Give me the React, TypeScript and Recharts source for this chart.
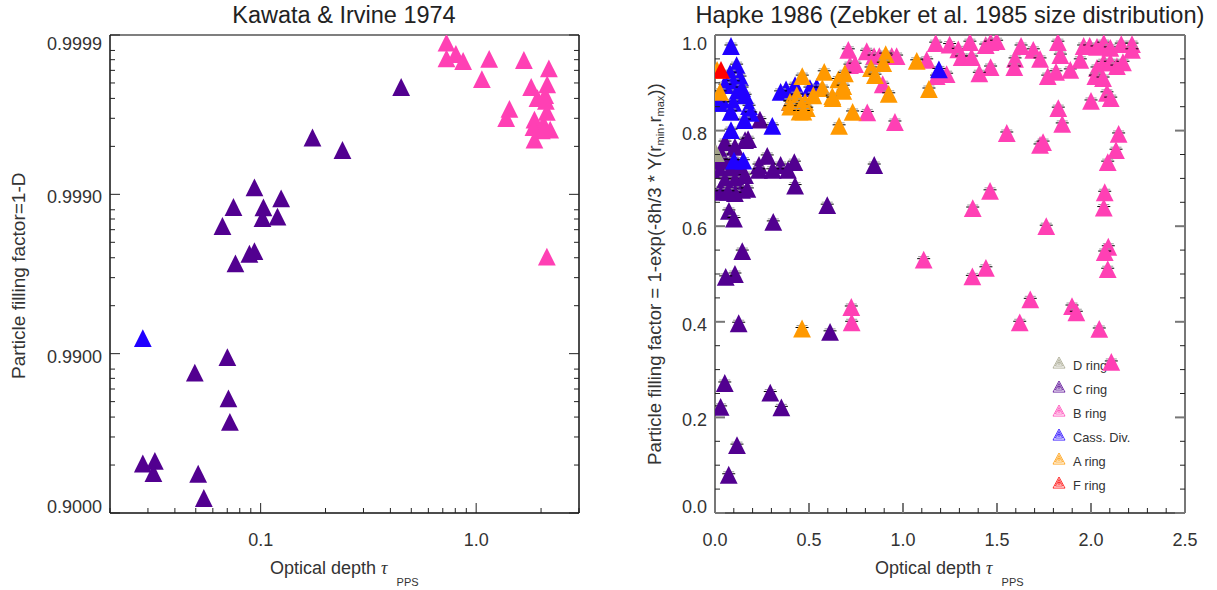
import React from 'react';
import { ScatterChart, Scatter, XAxis, YAxis, Legend } from 'recharts';

// Kawata & Irvine panel: [optical depth, D], filling factor is 1-D
const kawataCRing = [
  [0.0936, 9.04e-4], [0.0748, 1.201e-3], [0.0665, 1.58e-3], [0.103, 1.206e-3], [0.1245, 1.06e-3],
  [0.102, 1.41e-3], [0.1197, 1.38e-3], [0.0936, 2.27e-3], [0.0887, 2.36e-3], [0.0764, 2.71e-3],
  [0.174, 4.4e-4], [0.2397, 5.27e-4], [0.4487, 2.12e-4], [0.0701, 0.0105], [0.0495, 0.01317],
  [0.0709, 0.0191], [0.072, 0.02677], [0.0284, 0.04892], [0.0323, 0.04703], [0.0318, 0.0561],
  [0.0513, 0.0567], [0.0545, 0.0805],
];
const kawataBRing = [
  [0.7283, 1.118e-4], [0.7283, 1.4e-4], [0.805, 1.316e-4], [0.87, 1.456e-4], [1.149, 1.41e-4],
  [1.063, 1.89e-4], [1.665, 1.435e-4], [2.175, 1.62e-4], [1.8, 2.12e-4], [2.136, 2.04e-4],
  [1.925, 2.49e-4], [2.09, 2.38e-4], [2.106, 2.59e-4], [1.427, 2.91e-4], [1.378, 3.32e-4],
  [2.128, 3.04e-4], [1.864, 3.4e-4], [2.053, 3.6e-4], [1.845, 3.78e-4], [2.205, 3.93e-4],
  [2.018, 3.97e-4], [1.864, 4.54e-4], [2.128, 2.46e-3],
];
const kawataCassini = [[0.0284, 0.00798]];

// Hapke panel: [optical depth, filling factor]
const hapkeCRing = [
  [0.239, 0.823], [0.053, 0.776], [0.106, 0.766], [0.037, 0.749], [0.09, 0.738], [0.16, 0.78],
  [0.176, 0.782], [0.234, 0.728], [0.278, 0.747], [0.349, 0.728], [0.307, 0.718], [0.388, 0.718],
  [0.422, 0.734], [0.426, 0.685], [0.234, 0.718], [0.027, 0.718], [0.08, 0.718], [0.133, 0.718],
  [0.053, 0.697], [0.106, 0.697], [0.16, 0.707], [0.027, 0.676], [0.08, 0.676], [0.144, 0.676],
  [0.172, 0.678], [0.106, 0.669], [0.037, 0.672], [0.069, 0.672], [0.027, 0.738], [0.122, 0.728],
  [0.074, 0.632], [0.101, 0.616], [0.31, 0.609], [0.597, 0.644], [0.847, 0.728], [0.145, 0.548],
  [0.106, 0.5], [0.057, 0.494], [0.126, 0.397], [0.612, 0.379], [0.052, 0.272], [0.03, 0.222],
  [0.294, 0.252], [0.353, 0.221], [0.117, 0.142], [0.073, 0.08],
];
const hapkeDRing = [[0.005, 0.753]];
const hapkeBRing = [
  [0.709, 0.969], [0.807, 0.966], [0.846, 0.956], [0.874, 0.956], [0.94, 0.956], [0.966, 0.956],
  [0.718, 0.937], [0.745, 0.939], [0.81, 0.838], [0.957, 0.818], [0.892, 0.897], [1.126, 0.948],
  [1.174, 0.983], [1.248, 0.98], [1.294, 0.97], [1.356, 0.985], [1.312, 0.954], [1.365, 0.954],
  [1.44, 0.979], [1.466, 0.985], [1.498, 0.987], [1.466, 0.933], [1.406, 0.92], [1.232, 0.918],
  [1.179, 0.914], [1.552, 0.795], [1.628, 0.977], [1.596, 0.95], [1.592, 0.933], [1.693, 0.969],
  [1.729, 0.95], [1.729, 0.77], [1.463, 0.674], [1.371, 0.638], [1.824, 0.985], [1.837, 0.958],
  [1.77, 0.914], [1.814, 0.923], [1.89, 0.927], [1.943, 0.948], [1.961, 0.977], [1.993, 0.977],
  [2.032, 0.975], [2.068, 0.983], [2.103, 0.973], [2.161, 0.981], [2.218, 0.981], [2.218, 0.969],
  [2.032, 0.931], [2.068, 0.943], [2.103, 0.943], [2.138, 0.935], [2.17, 0.943], [2.023, 0.914],
  [2.064, 0.91], [2.085, 0.879], [2.105, 0.868], [2.0, 0.862], [1.826, 0.847], [1.847, 0.814],
  [1.745, 0.776], [2.147, 0.793], [2.133, 0.759], [2.089, 0.734], [2.073, 0.671], [2.068, 0.639],
  [1.762, 0.6], [2.092, 0.557], [2.073, 0.546], [2.089, 0.51], [1.11, 0.53], [1.441, 0.513],
  [1.369, 0.495], [1.677, 0.447], [1.621, 0.399], [1.899, 0.433], [1.922, 0.42], [2.044, 0.385],
  [2.108, 0.316], [0.725, 0.431], [0.727, 0.399],
];
const hapkeCassini = [
  [0.085, 0.977], [0.115, 0.937], [0.133, 0.912], [0.08, 0.92], [0.097, 0.902], [0.115, 0.879],
  [0.044, 0.858], [0.097, 0.858], [0.084, 0.839], [0.181, 0.851], [0.19, 0.837], [0.156, 0.822],
  [0.085, 0.801], [0.305, 0.81], [0.378, 0.886], [0.349, 0.881], [0.426, 0.895], [0.399, 0.86],
  [0.541, 0.891], [0.505, 0.889], [0.101, 0.737], [0.151, 0.737], [1.191, 0.928], [0.053, 0.895],
  [0.16, 0.874], [0.016, 0.864], [0.144, 0.889], [0.02, 0.858],
];
const hapkeARing = [
  [0.027, 0.881], [0.011, 0.927], [0.464, 0.914], [0.435, 0.874], [0.399, 0.86], [0.426, 0.86],
  [0.479, 0.86], [0.488, 0.847], [0.461, 0.854], [0.523, 0.874], [0.581, 0.923], [0.571, 0.889],
  [0.624, 0.872], [0.626, 0.868], [0.656, 0.907], [0.691, 0.92], [0.682, 0.883], [0.682, 0.893],
  [0.732, 0.839], [0.66, 0.81], [0.83, 0.931], [0.851, 0.916], [0.908, 0.96], [0.895, 0.941],
  [0.924, 0.877], [1.073, 0.946], [1.138, 0.887], [0.463, 0.386], [0.4, 0.85], [0.45, 0.84],
  [0.47, 0.84],
];
const hapkeFRing = [[0.032, 0.927]];

const kawataXTicks = [0.02, 0.03, 0.04, 0.05, 0.06, 0.07, 0.08, 0.09, 0.1, 0.2, 0.3, 0.4, 0.5, 0.6, 0.7, 0.8, 0.9, 1, 2, 3];
const kawataXMajor = [0.1, 1];
const kawataDTicks = [
  1e-4, 1 / 8000, 1 / 7000, 1 / 6000, 1 / 5000, 1 / 4000, 1 / 3000, 1 / 2000,
  1e-3, 1 / 800, 1 / 700, 1 / 600, 1 / 500, 1 / 400, 1 / 300, 1 / 200,
  0.01, 1 / 80, 1 / 70, 1 / 60, 1 / 50, 1 / 40, 1 / 30, 1 / 20, 0.1,
];
const kawataDMajor = [1e-4, 1e-3, 0.01, 0.1];
const hapkeXTicks = [0, 0.1, 0.2, 0.3, 0.4, 0.5, 0.6, 0.7, 0.8, 0.9, 1, 1.1, 1.2, 1.3, 1.4, 1.5, 1.6, 1.7, 1.8, 1.9, 2, 2.1, 2.2, 2.3, 2.4, 2.5];
const hapkeXMajor = [0, 0.5, 1, 1.5, 2, 2.5];
const hapkeYTicks = [0, 0.05, 0.1, 0.15, 0.2, 0.25, 0.3, 0.35, 0.4, 0.45, 0.5, 0.55, 0.6, 0.65, 0.7, 0.75, 0.8, 0.85, 0.9, 0.95, 1];
const hapkeYMajor = [0, 0.2, 0.4, 0.6, 0.8, 1];

const COLORS = { d: '#a3a38a', c: '#520090', b: '#ff40b4', cassini: '#2000ff', a: '#ff9900', f: '#ff0000' };
const legendRows = [
  { label: 'D ring', color: COLORS.d },
  { label: 'C ring', color: COLORS.c },
  { label: 'B ring', color: COLORS.b },
  { label: 'Cass. Div.', color: COLORS.cassini },
  { label: 'A ring', color: COLORS.a },
  { label: 'F ring', color: COLORS.f },
];

const FONT = '"Liberation Sans", Arial, sans-serif';
const TEXT = '#333';

const toKawata = (rows: number[][]) => rows.map(([tau, d]) => ({ tau, d }));
const toHapke = (rows: number[][]) => rows.map(([tau, fill]) => ({ tau, fill }));

const isMajor = (list: number[], v: number) => list.some((m) => Math.abs(m - v) < 1e-9);

// filled triangle centred on the point
const triangle = (fill: string, caps: boolean) => (props: any) => {
  const { cx, cy } = props;
  const r = 8.9;
  return (
    <g>
      {caps && <line x1={cx - 6.5} x2={cx + 6.5} y1={cy - 1} y2={cy - 1} stroke="#000" strokeWidth={1} />}
      {caps && <line x1={cx - 5.5} x2={cx + 5.5} y1={cy - 3} y2={cy - 3} stroke="#999" strokeWidth={1} />}
      <polygon points={`${cx},${cy - r} ${cx + r},${cy + r} ${cx - r},${cy + r}`} fill={fill} />
    </g>
  );
};

const tickStroke = (major: boolean, grey: boolean) =>
  major && grey ? { stroke: '#777', strokeWidth: 2 } : { stroke: '#222', strokeWidth: 1 };

// ticks point into the plot, only the bottom/left axes carry labels
const xTick = (majors: number[], side: 'bottom' | 'top', grey: boolean, fmt?: (v: number) => string) => (props: any) => {
  const { x, y, payload } = props;
  const major = isMajor(majors, payload.value);
  const len = major ? 10 : 5;
  const dir = side === 'bottom' ? -1 : 1;
  return (
    <g>
      <line x1={x} x2={x} y1={y} y2={y + dir * len} {...tickStroke(major, grey)} />
      {major && fmt && (
        <text x={x} y={y + 33} textAnchor="middle" fontFamily={FONT} fontSize={18} fill={TEXT}>
          {fmt(payload.value)}
        </text>
      )}
    </g>
  );
};

const yTick = (majors: number[], side: 'left' | 'right', grey: boolean, top: number, bottom: number, fmt?: (v: number) => string) => (props: any) => {
  const { x, y, payload } = props;
  const major = isMajor(majors, payload.value);
  const len = major ? 10 : 5;
  const dir = side === 'left' ? 1 : -1;
  let dy = 9;
  if (payload.value === top) dy = 15;
  if (payload.value === bottom) dy = 0;
  return (
    <g>
      <line x1={x} x2={x + dir * len} y1={y} y2={y} {...tickStroke(major, grey)} />
      {major && fmt && (
        <text x={x - 8} y={y + dy} textAnchor="end" fontFamily={FONT} fontSize={18} fill={TEXT}>
          {fmt(payload.value)}
        </text>
      )}
    </g>
  );
};

const HatchedLegend = () => (
  <div style={{ fontFamily: FONT, fontSize: 12.8, color: TEXT }}>
    {legendRows.map((row) => (
      <div key={row.label} style={{ height: 24, position: 'relative' }}>
        <svg width={16} height={16} style={{ position: 'absolute', left: 0, top: 0 }}>
          {[6, 3.6, 1.4].map((r) => (
            <polygon
              key={r}
              points={`8,${8 - r} ${8 + r},${8 + r * 0.85} ${8 - r},${8 + r * 0.85}`}
              fill="none"
              stroke={row.color}
              strokeWidth={1}
              opacity={0.8}
            />
          ))}
        </svg>
        <span style={{ position: 'absolute', left: 22, top: 3, whiteSpace: 'nowrap' }}>{row.label}</span>
      </div>
    ))}
  </div>
);

const XTitle = ({ x }: { x: number }) => (
  <text x={x} y={574} fontFamily={FONT} fontSize={18} fill={TEXT}>
    Optical depth{' '}
    <tspan fontFamily='"Liberation Serif", serif' fontStyle="italic">τ</tspan>
    <tspan fontSize={11} dx={9} dy={12}>PPS</tspan>
  </text>
);

const KawataPanel = () => (
  <ScatterChart width={608} height={590} margin={{ top: 34, right: 28, bottom: 76, left: 109 }}>
    <XAxis type="number" dataKey="tau" scale="log" domain={[0.02, 3]} allowDataOverflow ticks={kawataXTicks} interval={0}
      height={1} tickSize={0} tickMargin={0} tickLine={false} axisLine={{ stroke: '#111', strokeWidth: 1.5 }}
      tick={xTick(kawataXMajor, 'bottom', false, (v) => v.toFixed(1))} />
    <XAxis xAxisId="top" orientation="top" type="number" scale="log" domain={[0.02, 3]} allowDataOverflow ticks={kawataXTicks} interval={0}
      height={1} tickSize={0} tickMargin={0} tickLine={false} axisLine={{ stroke: '#555', strokeWidth: 1.5 }}
      tick={xTick(kawataXMajor, 'top', false)} />
    <YAxis type="number" dataKey="d" scale="log" reversed domain={[1e-4, 0.1]} allowDataOverflow ticks={kawataDTicks} interval={0}
      width={1} tickSize={0} tickMargin={0} tickLine={false} axisLine={{ stroke: '#111', strokeWidth: 1.5 }}
      tick={yTick(kawataDMajor, 'left', false, 1e-4, 0.1, (v) => (1 - v).toFixed(4))} />
    <YAxis yAxisId="right" orientation="right" type="number" scale="log" reversed domain={[1e-4, 0.1]} allowDataOverflow ticks={kawataDTicks} interval={0}
      width={1} tickSize={0} tickMargin={0} tickLine={false} axisLine={{ stroke: '#111', strokeWidth: 1.5 }}
      tick={yTick(kawataDMajor, 'right', false, 1e-4, 0.1)} />
    <Scatter data={toKawata(kawataCRing)} isAnimationActive={false} shape={triangle(COLORS.c, false)} />
    <Scatter data={toKawata(kawataBRing)} isAnimationActive={false} shape={triangle(COLORS.b, false)} />
    <Scatter data={toKawata(kawataCassini)} isAnimationActive={false} shape={triangle(COLORS.cassini, false)} />
    <text x={344} y={23} textAnchor="middle" fontFamily={FONT} fontSize={23.5} fill="#222">Kawata &amp; Irvine 1974</text>
    <XTitle x={270} />
    <text x={25} y={379} transform="rotate(-90 25 379)" fontFamily={FONT} fontSize={19} fill={TEXT}>
      Particle filling factor=1-D
    </text>
  </ScatterChart>
);

const HapkePanel = () => (
  <ScatterChart width={609} height={590} margin={{ top: 34, right: 31, bottom: 76, left: 106 }}>
    <XAxis type="number" dataKey="tau" domain={[0, 2.5]} allowDataOverflow ticks={hapkeXTicks} interval={0}
      height={1} tickSize={0} tickMargin={0} tickLine={false} axisLine={{ stroke: '#222', strokeWidth: 1.5 }}
      tick={xTick(hapkeXMajor, 'bottom', true, (v) => v.toFixed(1))} />
    <XAxis xAxisId="top" orientation="top" type="number" domain={[0, 2.5]} allowDataOverflow ticks={hapkeXTicks} interval={0}
      height={1} tickSize={0} tickMargin={0} tickLine={false} axisLine={{ stroke: '#777', strokeWidth: 2 }}
      tick={xTick(hapkeXMajor, 'top', true)} />
    <YAxis type="number" dataKey="fill" domain={[0, 1]} allowDataOverflow ticks={hapkeYTicks} interval={0}
      width={1} tickSize={0} tickMargin={0} tickLine={false} axisLine={{ stroke: '#777', strokeWidth: 2 }}
      tick={yTick(hapkeYMajor, 'left', true, 1, 0, (v) => v.toFixed(1))} />
    <YAxis yAxisId="right" orientation="right" type="number" domain={[0, 1]} allowDataOverflow ticks={hapkeYTicks} interval={0}
      width={1} tickSize={0} tickMargin={0} tickLine={false} axisLine={{ stroke: '#777', strokeWidth: 2 }}
      tick={yTick(hapkeYMajor, 'right', true, 1, 0)} />
    <Scatter data={toHapke(hapkeCRing)} isAnimationActive={false} shape={triangle(COLORS.c, true)} />
    <Scatter data={toHapke(hapkeDRing)} isAnimationActive={false} shape={triangle(COLORS.d, false)} />
    <Scatter data={toHapke(hapkeBRing)} isAnimationActive={false} shape={triangle(COLORS.b, true)} />
    <Scatter data={toHapke(hapkeCassini)} isAnimationActive={false} shape={triangle(COLORS.cassini, true)} />
    <Scatter data={toHapke(hapkeARing)} isAnimationActive={false} shape={triangle(COLORS.a, true)} />
    <Scatter data={toHapke(hapkeFRing)} isAnimationActive={false} shape={triangle(COLORS.f, false)} />
    <Legend layout="vertical" align="center" verticalAlign="middle" content={<HatchedLegend />}
      wrapperStyle={{ left: 443, top: 355, width: 120, zIndex: -1 }} />
    <text x={342} y={23} textAnchor="middle" fontFamily={FONT} fontSize={23.6} fill="#222">
      Hapke 1986 (Zebker et al. 1985 size distribution)
    </text>
    <XTitle x={267} />
    <text x={53} y={465} transform="rotate(-90 53 465)" fontFamily={FONT} fontSize={18.6} fill={TEXT}>
      Particle filling factor = 1-exp(-8h/3 * Y(r
      <tspan fontSize={11} dy={3}>min</tspan>
      <tspan dy={-3}>,r</tspan>
      <tspan fontSize={11} dy={3}>max</tspan>
      <tspan dy={-3}>))</tspan>
    </text>
  </ScatterChart>
);

export default function App() {
  return (
    <div style={{ position: 'absolute', left: 0, top: 0, width: 1217, height: 590, overflow: 'visible' }}>
      <div style={{ position: 'absolute', left: 0, top: 0 }}><KawataPanel /></div>
      <div style={{ position: 'absolute', left: 608, top: 0 }}><HapkePanel /></div>
    </div>
  );
}
